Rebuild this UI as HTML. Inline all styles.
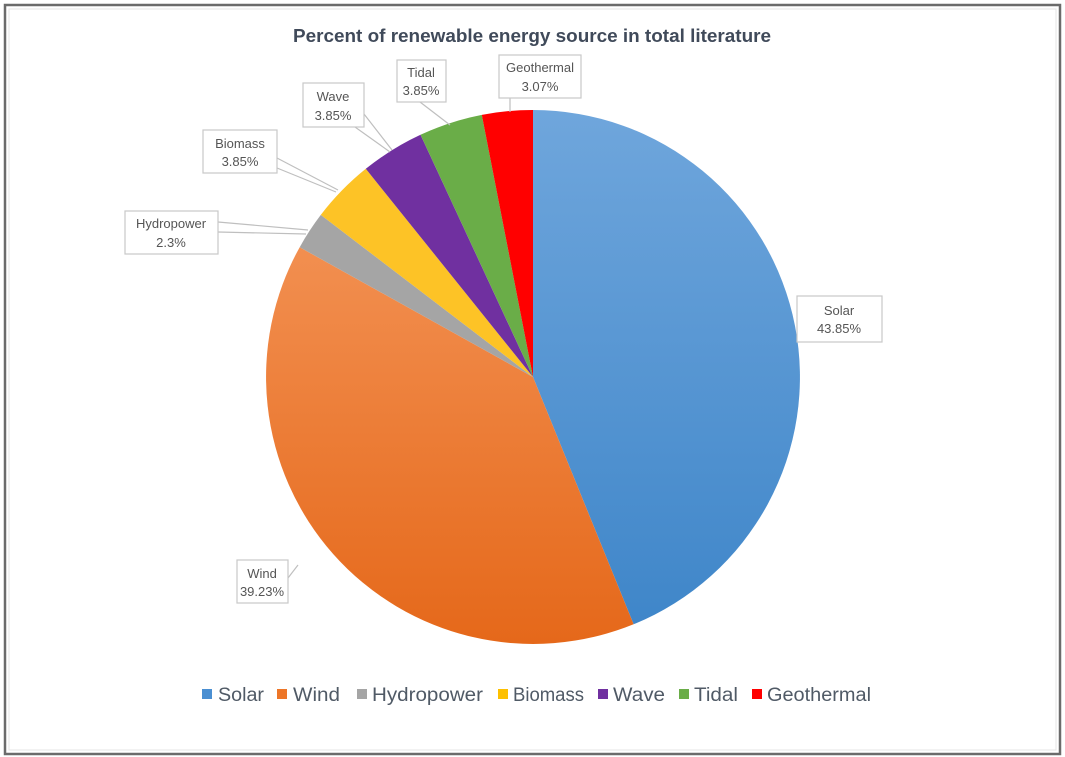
<!DOCTYPE html>
<html><head><style>
body{margin:0;background:#fff;}
svg{display:block;font-family:"Liberation Sans",sans-serif;}
</style></head><body>
<svg width="1065" height="757" viewBox="0 0 1065 757">
<defs>
<linearGradient id="gs" x1="0" y1="0" x2="0" y2="1"><stop offset="0" stop-color="#6fa6dc"/><stop offset="1" stop-color="#3f86c9"/></linearGradient>
<linearGradient id="gw" x1="0" y1="0" x2="0" y2="1"><stop offset="0" stop-color="#f28f50"/><stop offset="1" stop-color="#e5681a"/></linearGradient>
</defs>
<rect x="5" y="5" width="1055" height="749" fill="#fff" stroke="#6b6b6b" stroke-width="2.5"/>
<rect x="9" y="9" width="1047" height="741" fill="none" stroke="#e4e4e4" stroke-width="1"/>
<text x="293" y="42" font-size="18" font-weight="bold" fill="#404a5a" textLength="478" lengthAdjust="spacingAndGlyphs">Percent of renewable energy source in total literature</text>
<g>
<path d="M533,377 L533,110 A267,267 0 0 1 633.6,624.3 Z" fill="url(#gs)"/>
<path d="M533,377 L633.6,624.3 A267,267 0 0 1 299.7,247.2 Z" fill="url(#gw)"/>
<path d="M533,377 L299.7,247.2 A267,267 0 0 1 320.8,214.9 Z" fill="#a5a5a5"/>
<path d="M533,377 L320.8,214.9 A267,267 0 0 1 365.8,168.8 Z" fill="#fdc326"/>
<path d="M533,377 L365.8,168.8 A267,267 0 0 1 420.5,134.8 Z" fill="#7030a0"/>
<path d="M533,377 L420.5,134.8 A267,267 0 0 1 481.8,114.9 Z" fill="#6aad48"/>
<path d="M533,377 L481.8,114.9 A267,267 0 0 1 533,110 Z" fill="#ff0000"/>
</g>
<g stroke="#bfbfbf" stroke-width="1.2" fill="none">
<path d="M218,222 L308,230 M218,232 L306,234"/>
<path d="M277,158 L338,190 M277,168 L336,192"/>
<path d="M364,114 L392,150 M355,127 L390,152"/>
<path d="M420,102 L450,125"/>
<path d="M510,98 L510,112"/>
<path d="M797,320 L800,320"/>
<path d="M288,578 L298,565"/>
</g>
<g fill="#fff" stroke="#c8c8c8" stroke-width="1.2">
<rect x="797" y="296" width="85" height="46"/>
<rect x="237" y="560" width="51" height="43"/>
<rect x="125" y="211" width="93" height="43"/>
<rect x="203" y="130" width="74" height="43"/>
<rect x="303" y="83" width="61" height="44"/>
<rect x="397" y="60" width="49" height="42"/>
<rect x="499" y="55" width="82" height="43"/>
</g>
<g font-size="13" fill="#555" text-anchor="middle">
<text x="839" y="315">Solar</text><text x="839" y="333">43.85%</text>
<text x="262" y="578">Wind</text><text x="262" y="596">39.23%</text>
<text x="171" y="228">Hydropower</text><text x="171" y="247">2.3%</text>
<text x="240" y="148">Biomass</text><text x="240" y="166">3.85%</text>
<text x="333" y="101">Wave</text><text x="333" y="120">3.85%</text>
<text x="421" y="77">Tidal</text><text x="421" y="95">3.85%</text>
<text x="540" y="72">Geothermal</text><text x="540" y="91">3.07%</text>
</g>
<g font-size="19" fill="#505a66">
<rect x="202" y="689" width="10" height="10" fill="#4a8fd2"/><text x="218" y="701" textLength="46" lengthAdjust="spacingAndGlyphs">Solar</text>
<rect x="277" y="689" width="10" height="10" fill="#ed7628"/><text x="293" y="701" textLength="47" lengthAdjust="spacingAndGlyphs">Wind</text>
<rect x="357" y="689" width="10" height="10" fill="#a5a5a5"/><text x="372" y="701" textLength="111" lengthAdjust="spacingAndGlyphs">Hydropower</text>
<rect x="498" y="689" width="10" height="10" fill="#fdc000"/><text x="513" y="701" textLength="71" lengthAdjust="spacingAndGlyphs">Biomass</text>
<rect x="598" y="689" width="10" height="10" fill="#7030a0"/><text x="613" y="701" textLength="52" lengthAdjust="spacingAndGlyphs">Wave</text>
<rect x="679" y="689" width="10" height="10" fill="#6aad48"/><text x="694" y="701" textLength="44" lengthAdjust="spacingAndGlyphs">Tidal</text>
<rect x="752" y="689" width="10" height="10" fill="#ff0000"/><text x="767" y="701" textLength="104" lengthAdjust="spacingAndGlyphs">Geothermal</text>
</g>
</svg>
</body></html>
